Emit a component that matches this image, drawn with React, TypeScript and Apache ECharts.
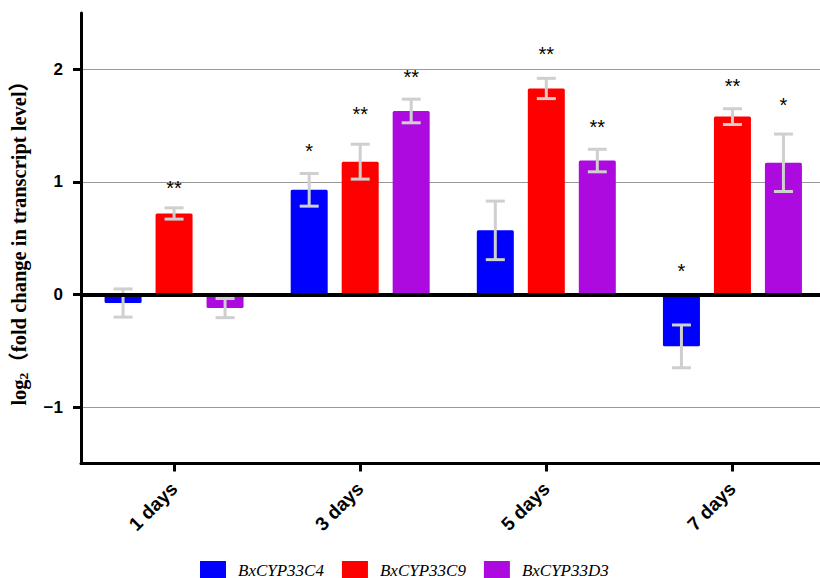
import React, { useEffect, useRef } from "react";
import * as echarts from "echarts";

const categories = ["1 days", "3 days", "5 days", "7 days"];
const seriesNames = ["BxCYP33C4", "BxCYP33C9", "BxCYP33D3"];
const seriesColors = ["#0000FF", "#FF0000", "#AD0AE0"];

const c4Values = [-0.075, 0.93, 0.57, -0.46];
const c4Errors = [0.125, 0.145, 0.26, 0.19];
const c9Values = [0.72, 1.18, 1.83, 1.58];
const c9Errors = [0.05, 0.155, 0.09, 0.07];
const d3Values = [-0.12, 1.63, 1.19, 1.17];
const d3Errors = [0.085, 0.105, 0.1, 0.255];

const c4Sig = ["", "*", "", "*"];
const c9Sig = ["**", "**", "**", "**"];
const d3Sig = ["", "**", "**", "*"];
// y value (data units) where each significance mark sits
const c4SigPos = [0, 1.306, 0, 0.247];
const c9SigPos = [0.98, 1.643, 2.17, 1.89];
const d3SigPos = [0, 1.97, 1.52, 1.717];

const yTicks = [-1, 0, 1, 2];

const allValues = [c4Values, c9Values, d3Values];
const allErrors = [c4Errors, c9Errors, d3Errors];
const allSig = [c4Sig, c9Sig, d3Sig];
const allSigPos = [c4SigPos, c9SigPos, d3SigPos];

const BAR_W = 37;
const BAR_STEP = 51;

export default function App() {
  const ref = useRef<HTMLDivElement>(null);
  useEffect(() => {
    if (!ref.current) return;
    const chart = echarts.init(ref.current, null, { renderer: "svg" });

    const barSeries = seriesNames.map((name, si) => ({
      name,
      type: "bar",
      data: allValues[si],
      barWidth: BAR_W,
      barGap: "37.8%",
      itemStyle: { color: seriesColors[si], borderRadius: 1.5 },
      z: 2,
      ...(si === 0
        ? {
            markLine: {
              silent: true,
              symbol: ["none", "none"],
              label: { show: false },
              lineStyle: { color: "#000", width: 4, type: "solid" },
              data: [{ yAxis: 0 }],
              z: 5,
            },
          }
        : {}),
    }));

    const errSeries = seriesNames.map((name, si) => ({
      name: name + "-err",
      type: "custom",
      z: 4,
      silent: true,
      data: allValues[si].map((v, i) => [i, v, allErrors[si][i]]),
      encode: { x: 0, y: 1 },
      renderItem: (params: any, api: any) => {
        const idx = api.value(0);
        const v = api.value(1);
        const e = api.value(2);
        const top = api.coord([idx, v + e]);
        const bot = api.coord([idx, v - e]);
        const x = top[0] + (si - 1) * BAR_STEP;
        const style = { stroke: "#CFCFCF", lineWidth: 3 };
        const hw = 9.5;
        return {
          type: "group",
          children: [
            { type: "line", shape: { x1: x, y1: top[1], x2: x, y2: bot[1] }, style },
            { type: "line", shape: { x1: x - hw, y1: top[1], x2: x + hw, y2: top[1] }, style },
            { type: "line", shape: { x1: x - hw, y1: bot[1], x2: x + hw, y2: bot[1] }, style },
          ],
        };
      },
    }));

    const sigSeries = seriesNames.map((name, si) => ({
      name: name + "-sig",
      type: "custom",
      z: 6,
      silent: true,
      data: allSigPos[si].map((p, i) => [i, p]),
      encode: { x: 0, y: 1 },
      renderItem: (params: any, api: any) => {
        const idx = api.value(0);
        const txt = allSig[si][idx];
        if (!txt) return null;
        const pt = api.coord([idx, api.value(1)]);
        return {
          type: "text",
          x: pt[0] + (si - 1) * BAR_STEP,
          y: pt[1] + 4,
          style: {
            text: txt,
            fill: "#000",
            font: "20px 'Liberation Sans', Arial, sans-serif",
            align: "center",
            verticalAlign: "middle",
          },
        };
      },
    }));

    chart.setOption({
      animation: false,
      backgroundColor: "#fff",
      grid: {
        left: 81,
        width: 744.5,
        top: 13,
        bottom: 114.5,
        containLabel: false,
        outerBoundsMode: "none",
      },
      legend: {
        data: seriesNames,
        left: 195,
        top: 555,
        icon: "rect",
        itemWidth: 26,
        itemHeight: 18,
        itemGap: 18,
        textStyle: {
          fontFamily: "'Liberation Serif', 'Times New Roman', serif",
          fontStyle: "italic",
          fontSize: 17,
          lineHeight: 17,
          color: "#000",
          padding: [0, 0, 3, 7],
        },
      },
      xAxis: {
        type: "category",
        data: categories,
        axisLine: { show: true, onZero: false, lineStyle: { color: "#000", width: 3 } },
        axisTick: { show: true, alignWithLabel: true, length: 8, lineStyle: { color: "#000", width: 3 } },
        axisLabel: {
          rotate: 45,
          margin: 22,
          color: "#000",
          fontFamily: "'Liberation Sans', Arial, sans-serif",
          fontWeight: "bold",
          fontSize: 19,
        },
        splitLine: { show: false },
      },
      yAxis: {
        type: "value",
        min: -1.5,
        max: 2.5,
        name: "log{s|2}（fold change in transcript level）",
        nameLocation: "middle",
        nameGap: 51,
        nameTextStyle: {
          fontFamily: "'Liberation Serif', 'Times New Roman', 'Noto Sans CJK SC', serif",
          fontWeight: "bold",
          fontSize: 20.5,
          color: "#000",
          rich: {
            s: {
              fontFamily: "'Liberation Serif', 'Times New Roman', serif",
              fontWeight: "bold",
              fontSize: 13.5,
              color: "#000",
              verticalAlign: "bottom",
              padding: [8, 0, 0, 0],
            },
          },
        },
        axisLine: { show: true, lineStyle: { color: "#000", width: 3 } },
        axisTick: { show: true, length: 8, customValues: yTicks, lineStyle: { color: "#000", width: 3 } },
        axisLabel: {
          customValues: yTicks,
          margin: 18,
          color: "#000",
          fontFamily: "'Liberation Sans', Arial, sans-serif",
          fontWeight: "bold",
          fontSize: 17,
          formatter: (v: number) => (v < 0 ? "\u2212" + Math.abs(v) : String(v)),
        },
        splitLine: { show: true, lineStyle: { color: "#999", width: 1 } },
      },
      series: [...barSeries, ...errSeries, ...sigSeries],
    });

    return () => chart.dispose();
  }, []);

  return (
    <div
      ref={ref}
      style={{ position: "fixed", left: 0, top: 0, width: 820, height: 578, background: "#fff" }}
    />
  );
}
